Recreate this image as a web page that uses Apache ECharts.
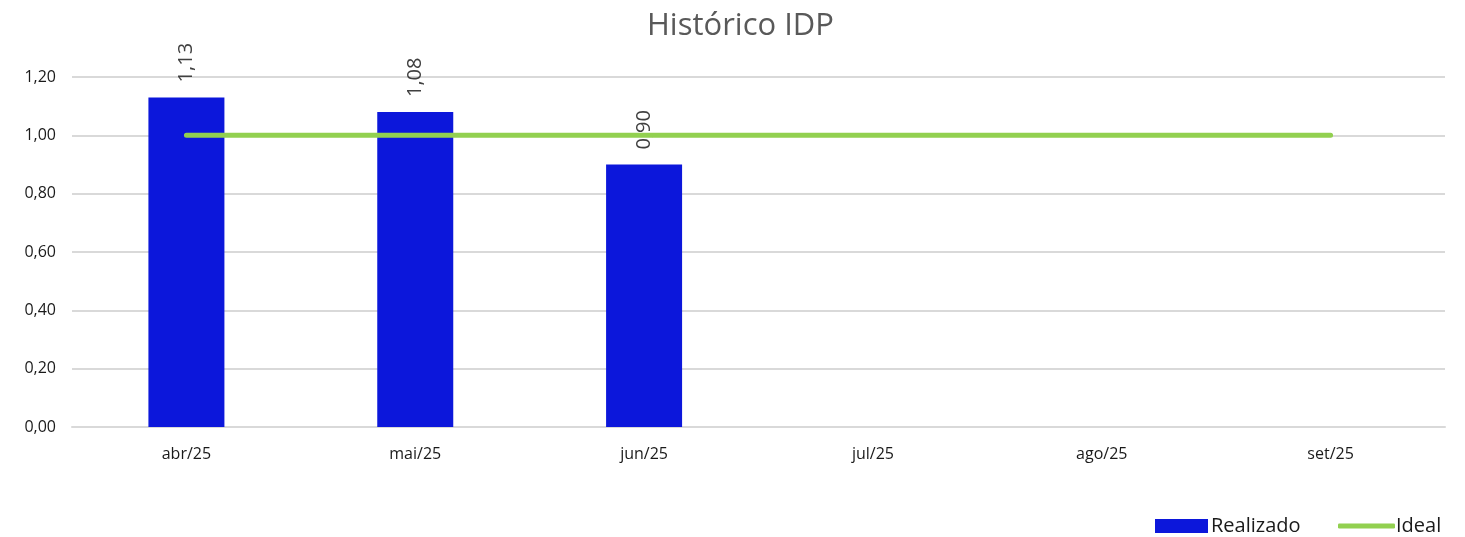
<!DOCTYPE html>
<html><head><meta charset="utf-8">
<script src="https://cdn.jsdelivr.net/npm/echarts@6/dist/echarts.min.js"></script>
<style>html,body{margin:0;padding:0;background:#fff}#c{width:1465px;height:537px}</style>
</head><body><div id="c"></div>
<script>
var categories = ['abr/25','mai/25','jun/25','jul/25','ago/25','set/25'];
var realizado = [1.13, 1.08, 0.90, null, null, null];
var ideal = [1, 1, 1, 1, 1, 1];
var yTicks = [0, 0.2, 0.4, 0.6, 0.8, 1.0, 1.2];

var fmt = function(v){ return Number(v).toFixed(2).replace('.', ','); };
var chart = echarts.init(document.getElementById('c'));
chart.setOption({
  animation:false,
  textStyle:{fontFamily:'Open Sans'},
  title:{text:'Histórico IDP', left:642, top:6,
    textStyle:{fontFamily:'Open Sans', fontSize:31, fontWeight:'normal', color:'#595959'}},
  grid:{left:72, right:20, top:77, bottom:110},
  legend:[
    {left:1150, top:511, itemWidth:53, itemHeight:14, itemGap:0,
     textStyle:{fontSize:20, color:'#1a1a1a', padding:[0,0,0,-2]},
     data:[{name:'Realizado', icon:'rect'}]},
    {left:1333, top:511, itemWidth:57, itemHeight:5, itemGap:0,
     textStyle:{fontSize:20, color:'#1a1a1a', padding:[0,0,0,-4]},
     data:[{name:'Ideal', icon:'roundRect'}]}
  ],
  xAxis:{type:'category', data:categories,
    axisLine:{lineStyle:{color:'#d9d9d9', width:2}}, axisTick:{show:false},
    axisLabel:{fontSize:16, color:'#1a1a1a', margin:19}},
  yAxis:{type:'value', min:0, max:yTicks[yTicks.length-1], interval:0.2,
    axisLabel:{fontSize:16, color:'#1a1a1a', margin:16, formatter:fmt},
    splitLine:{lineStyle:{color:'#d9d9d9', width:2}},
    axisLine:{show:false}, axisTick:{show:false}},
  series:[
    {name:'Realizado', type:'bar', data:realizado, barWidth:76,
     itemStyle:{color:'#0c17db'},
     label:{show:true, position:'top', distance:15, rotate:90, align:'left', verticalAlign:'middle',
       fontSize:20, color:'#404040', formatter:function(p){return fmt(p.value);}}},
    {name:'Ideal', type:'line', data:ideal, symbol:'none',
     lineStyle:{color:'#92d050', width:5, cap:'round'}, itemStyle:{color:'#92d050'}}
  ]
});
</script></body></html>
